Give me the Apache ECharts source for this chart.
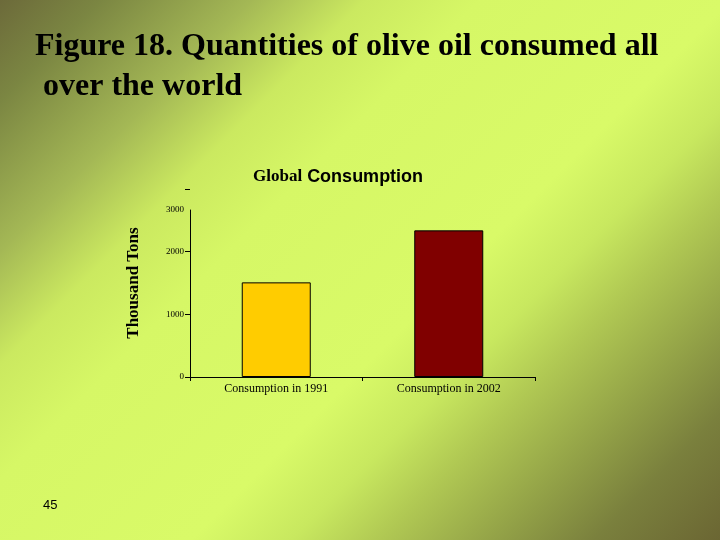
<!DOCTYPE html>
<html>
<head>
<meta charset="utf-8">
<script src="https://cdn.jsdelivr.net/npm/echarts@6/dist/echarts.min.js"></script>
<style>html,body{margin:0;padding:0;}#c{width:720px;height:540px;}</style>
</head>
<body>
<div id="c"></div>
<script>
const categories = ['Consumption in 1991', 'Consumption in 2002'];
const consumption = [1510, 2340];
const barColors = ['#FFCC00', '#800000'];
const yTicks = [0, 1000, 2000, 3000];
const pageTitle = 'Figure 18. Quantities of olive oil consumed all\n over the world';
const pageNumber = '45';

const chart = echarts.init(document.getElementById('c'));
chart.setOption({
  animation: false,
  backgroundColor: new echarts.graphic.LinearGradient(0, 0, 630, 630, [
    { offset: 0, color: '#6c6a3a' },
    { offset: 0.08, color: '#7b8642' },
    { offset: 0.2, color: '#a4b855' },
    { offset: 0.29, color: '#cbe960' },
    { offset: 0.38, color: '#d6f766' },
    { offset: 0.58, color: '#d9fa68' },
    { offset: 0.66, color: '#c8e85f' },
    { offset: 0.73, color: '#b0c853' },
    { offset: 0.82, color: '#93a247' },
    { offset: 0.9, color: '#7a803d' },
    { offset: 1, color: '#6b6633' }
  ], true),
  title: [
    {
      text: pageTitle, left: 35, top: 27, padding: 0,
      textStyle: { fontFamily: 'Liberation Serif', fontWeight: 'bold', fontSize: 32, lineHeight: 40, color: '#000' }
    },
    {
      text: '{a|Global} {b|Consumption}', left: 253, top: 168, padding: 0,
      textStyle: {
        rich: {
          a: { fontFamily: 'Liberation Serif', fontWeight: 'bold', fontSize: 17, color: '#000' },
          b: { fontFamily: 'Liberation Sans', fontWeight: 'bold', fontSize: 18, color: '#000' }
        }
      }
    },
    {
      text: pageNumber, left: 43, top: 499, padding: 0,
      textStyle: { fontFamily: 'Liberation Sans', fontWeight: 'normal', fontSize: 13, color: '#000' }
    }
  ],
  grid: [
    { left: 190, right: 185, top: 189, bottom: 163 },
    { left: 190, right: 185, top: 210, bottom: 163 }
  ],
  xAxis: [
    {
      type: 'category', data: categories, gridIndex: 0,
      axisLine: { lineStyle: { color: '#000', width: 1 } },
      axisTick: { show: true, length: 4, lineStyle: { color: '#000' } },
      axisLabel: { color: '#000', fontFamily: 'Liberation Serif', fontSize: 12, margin: 6 }
    },
    {
      type: 'category', data: categories, gridIndex: 1, show: false
    }
  ],
  yAxis: [
    {
      type: 'value', gridIndex: 0, min: 0, max: 3000, interval: 1000,
      name: 'Thousand Tons', nameLocation: 'middle', nameGap: 48, nameRotate: 90,
      nameTextStyle: { fontFamily: 'Liberation Serif', fontWeight: 'bold', fontSize: 17, color: '#000' },
      axisLine: { show: false },
      axisTick: { show: true, length: 5, lineStyle: { color: '#000' } },
      splitLine: { show: false },
      axisLabel: {
        color: '#000', fontFamily: 'Liberation Serif', fontSize: 9, margin: 6,
        formatter: v => v === yTicks[yTicks.length - 1] ? '{top|' + v + '}' : String(v),
        rich: { top: { fontFamily: 'Liberation Serif', fontSize: 9, color: '#000', padding: [42, 0, 0, 0] } }
      }
    },
    {
      type: 'value', gridIndex: 1, min: 0, max: 2667,
      axisLine: { show: true, onZero: false, lineStyle: { color: '#000', width: 1 } },
      axisTick: { show: false }, axisLabel: { show: false }, splitLine: { show: false }
    }
  ],
  series: [{
    type: 'bar', xAxisIndex: 0, yAxisIndex: 0, barWidth: 69,
    data: consumption.map((v, i) => ({
      value: v,
      itemStyle: { color: barColors[i], borderColor: '#000', borderWidth: 1 }
    }))
  }]
});
</script>
</body>
</html>
